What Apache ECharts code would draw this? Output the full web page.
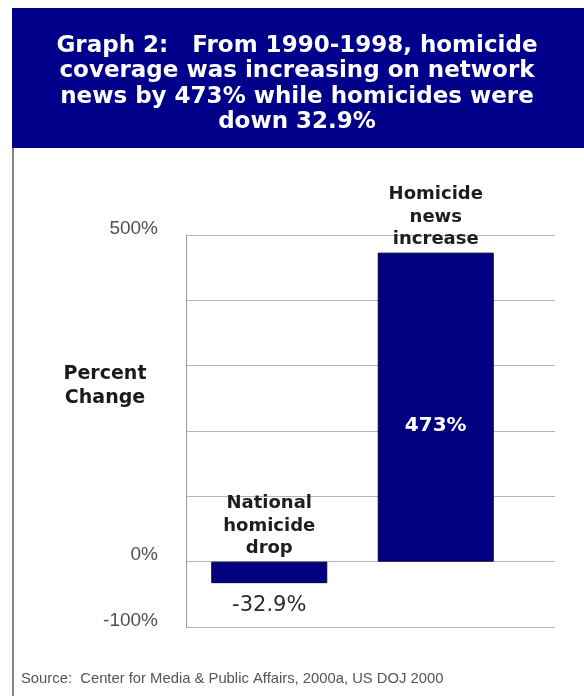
<!DOCTYPE html>
<html>
<head>
<meta charset="utf-8">
<script src="https://cdn.jsdelivr.net/npm/echarts@6/dist/echarts.min.js"></script>
<style>
  html, body { margin: 0; padding: 0; background: #ffffff; }
  #chart { width: 584px; height: 696px; }
</style>
</head>
<body>
<div id="chart"></div>
<script>
// Percent change 1990-1998
var categories = ['National homicide drop', 'Homicide news increase'];
var barNames = ['National\nhomicide\ndrop', 'Homicide\nnews\nincrease'];
var values = [-32.9, 473];
var shownTicks = [500, 0, -100];
var tickLabels = ['500%', '0%', '-100%'];

var titleText = 'Graph 2:   From 1990-1998, homicide\ncoverage was increasing on network\nnews by 473% while homicides were\ndown 32.9%';
var axisTitle = 'Percent\nChange';
var sourceText = 'Source:  Center for Media & Public Affairs, 2000a, US DOJ 2000';

var NAVY = '#000080';
var BOLD_FONT = '"DejaVu Sans", sans-serif';
var PLAIN_FONT = '"Liberation Sans", Arial, sans-serif';

function tickFormatter(v) {
  var i = shownTicks.indexOf(v);
  return i >= 0 ? tickLabels[i] : '';
}

var chart = echarts.init(document.getElementById('chart'), null, { renderer: 'canvas' });

chart.setOption({
  backgroundColor: '#ffffff',
  animation: false,
  graphic: [
    { type: 'rect', shape: { x: 12, y: 8, width: 572, height: 140 }, style: { fill: '#00008a' }, z: 0 },
    { type: 'line', shape: { x1: 13, y1: 148, x2: 13, y2: 696 }, style: { stroke: '#858585', lineWidth: 2 } },
    {
      type: 'text', x: 297, y: 84, z: 10,
      style: {
        text: titleText, fill: '#ffffff', font: 'bold 23px ' + BOLD_FONT,
        lineHeight: 25.5, align: 'center', verticalAlign: 'middle'
      }
    },
    {
      type: 'text', x: 105, y: 386,
      style: {
        text: axisTitle, fill: '#1a1a1a', font: 'bold 19px ' + BOLD_FONT,
        lineHeight: 24, align: 'center', verticalAlign: 'middle'
      }
    },
    {
      type: 'text', x: 21, y: 679,
      style: {
        text: sourceText, fill: '#555555', font: '14.8px ' + PLAIN_FONT,
        align: 'left', verticalAlign: 'middle'
      }
    }
  ],
  grid: [
    { left: 186, right: 29, top: 235, bottom: 69 },
    { left: 186, right: 65, top: 235, bottom: 69 }
  ],
  xAxis: [
    { type: 'category', gridIndex: 0, data: categories, show: false },
    { type: 'category', gridIndex: 1, data: categories, show: false }
  ],
  yAxis: [
    {
      type: 'value', gridIndex: 0, min: -100, max: 500, interval: 100,
      axisLine: { show: true, lineStyle: { color: '#9a9a9a', width: 1 } },
      axisTick: { show: false },
      splitLine: { show: true, lineStyle: { color: '#b4b4b4', width: 1 } },
      axisLabel: {
        formatter: tickFormatter, margin: 28, color: '#505050',
        fontFamily: PLAIN_FONT, fontSize: 19,
        verticalAlign: 'bottom', lineHeight: 13
      }
    },
    { type: 'value', gridIndex: 1, min: -100, max: 500, interval: 100, show: false, splitLine: { show: false } }
  ],
  series: [
    {
      type: 'bar', xAxisIndex: 1, yAxisIndex: 1,
      barWidth: 116,
      itemStyle: { color: NAVY, borderColor: '#00003a', borderWidth: 1 },
      data: values.map(function (v) {
        return {
          value: v,
          label: v < 0
            ? { show: true, position: 'bottom', distance: 12, color: '#2a2a2a',
                fontFamily: BOLD_FONT, fontSize: 21, fontWeight: 'normal' }
            : { show: true, position: ['50%', '56%'], align: 'center', verticalAlign: 'middle',
                color: '#ffffff', fontFamily: BOLD_FONT, fontSize: 20, fontWeight: 'bold' }
        };
      }),
      label: { formatter: function (p) { return p.value + '%'; } }
    },
    {
      type: 'scatter', xAxisIndex: 1, yAxisIndex: 1,
      symbolSize: 0, silent: true,
      itemStyle: { opacity: 1 },
      data: values.map(function (v) { return Math.max(v, 0); }),
      label: {
        show: true, position: 'top', distance: 2,
        formatter: function (p) { return barNames[p.dataIndex]; },
        color: '#1e1e1e', opacity: 1, fontFamily: BOLD_FONT, fontSize: 18, fontWeight: 'bold',
        lineHeight: 22.5, align: 'center'
      }
    }
  ]
});
</script>
</body>
</html>
